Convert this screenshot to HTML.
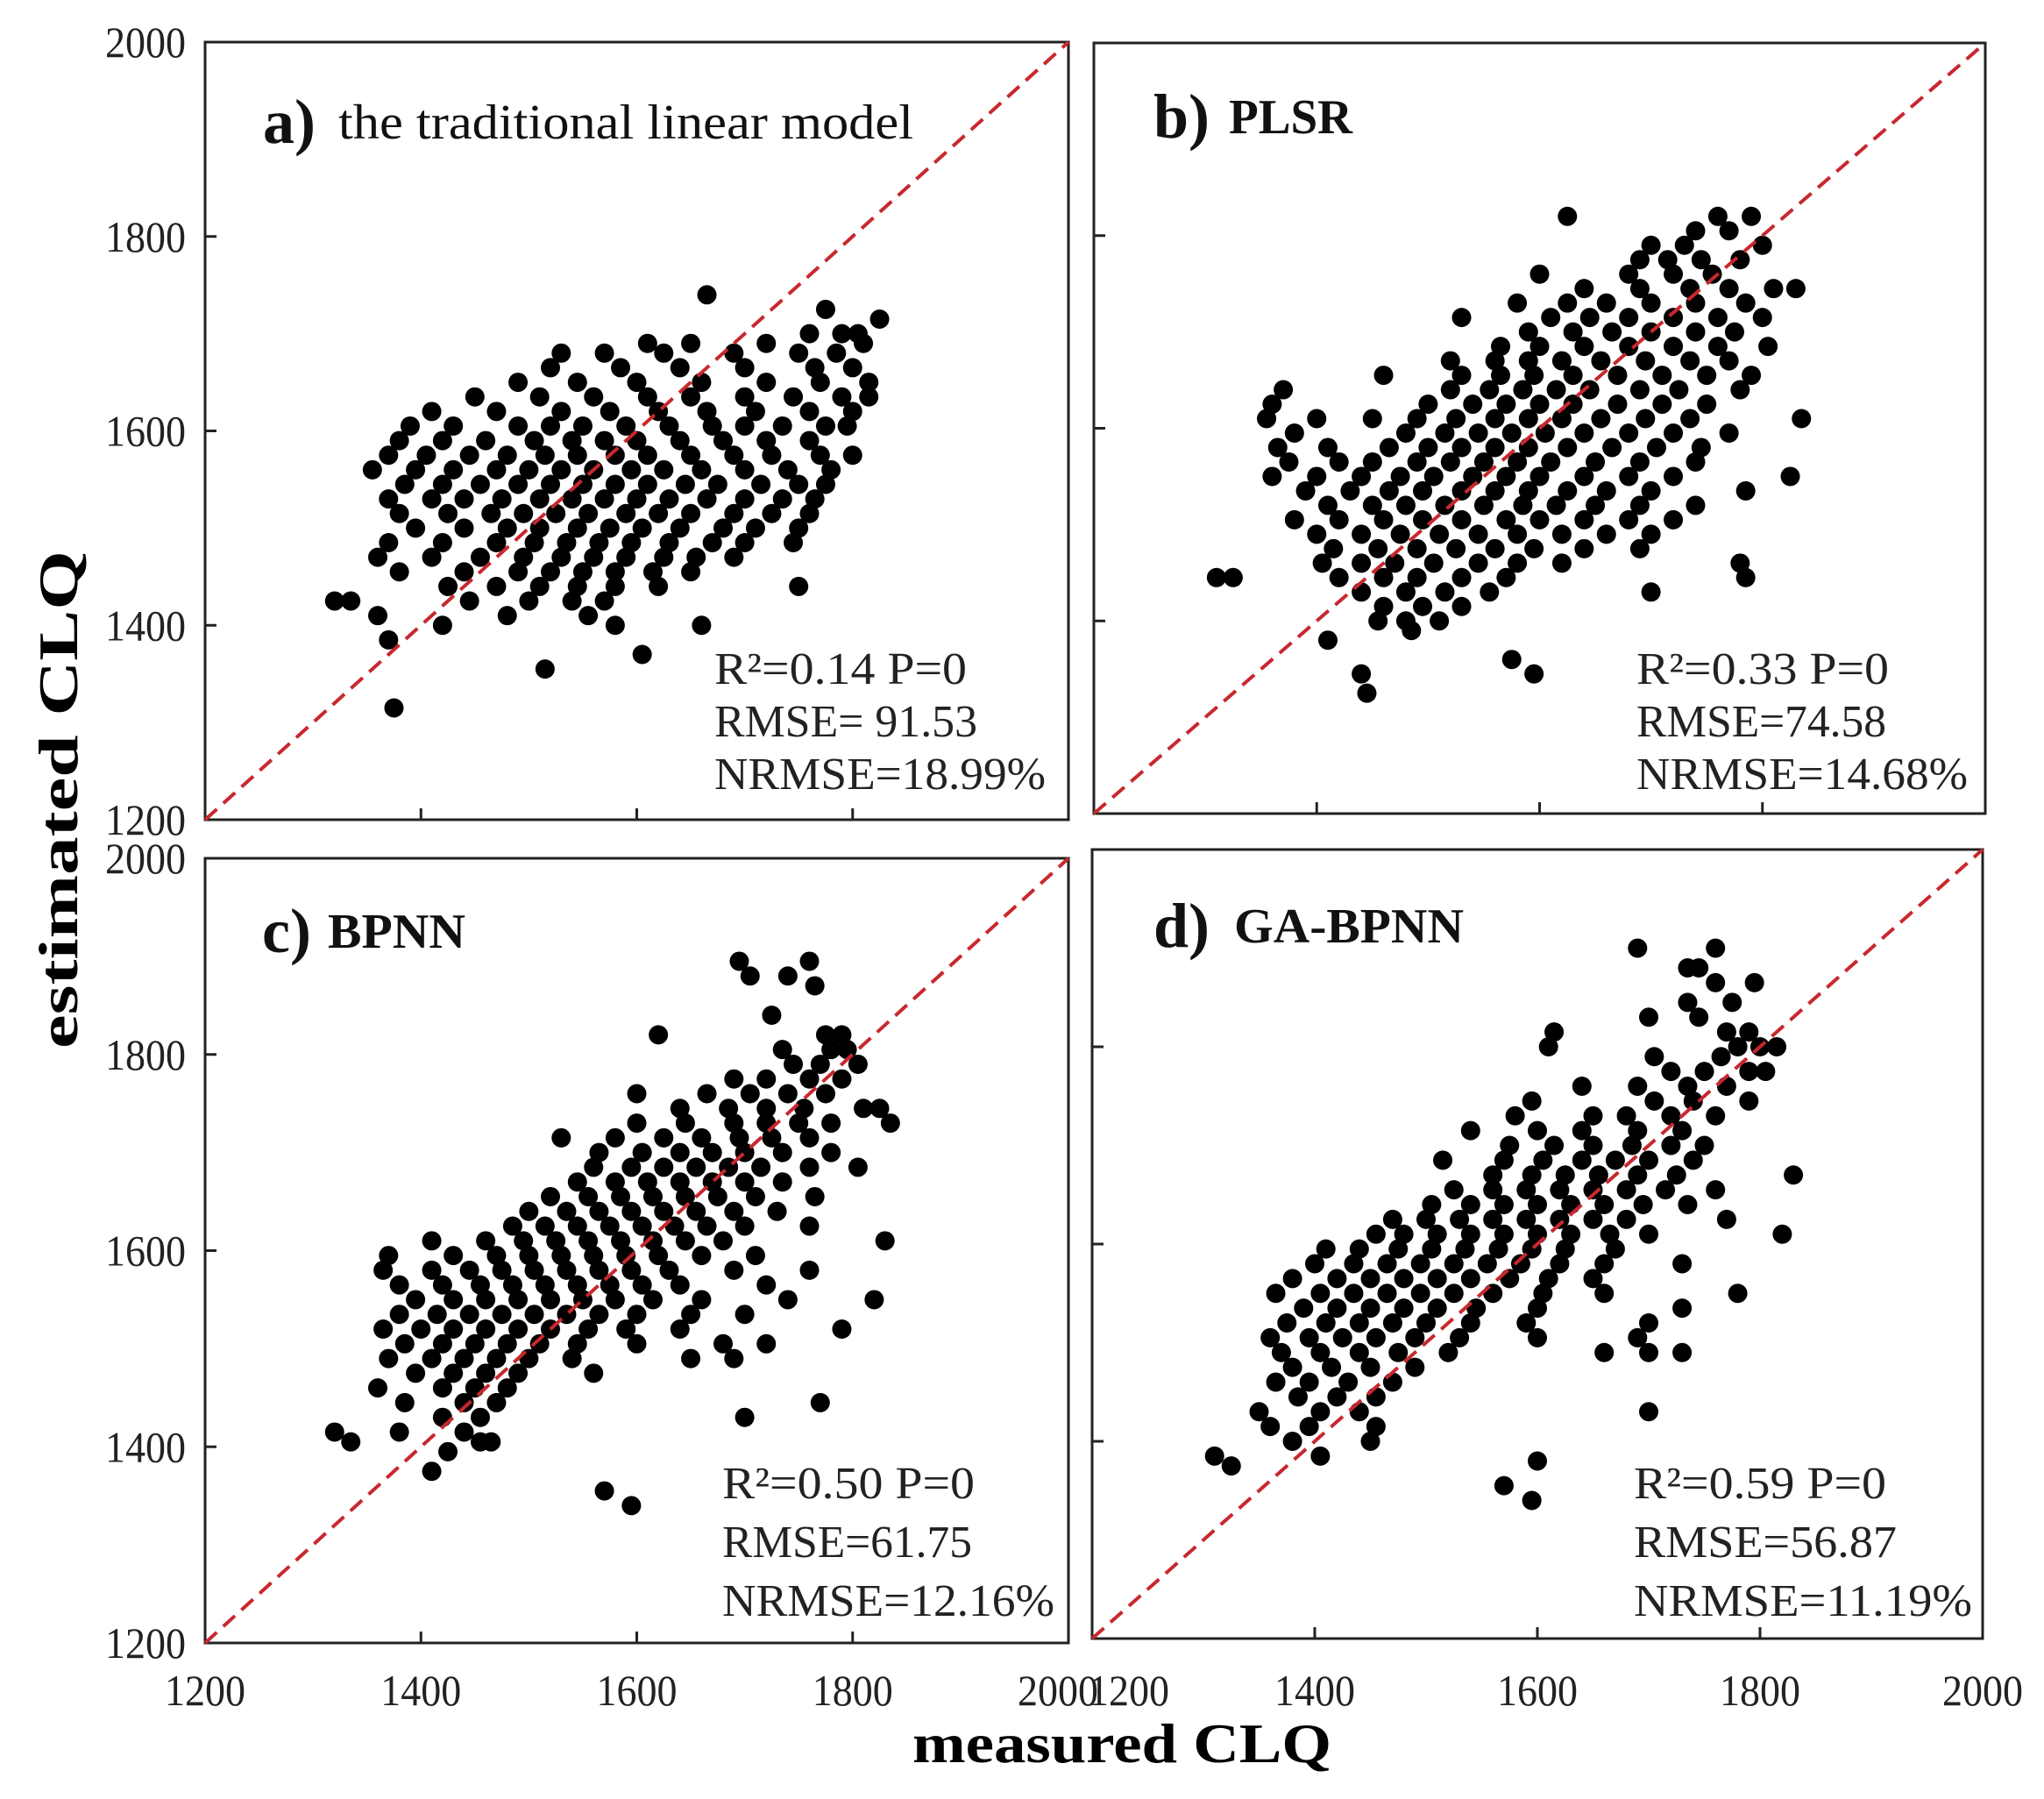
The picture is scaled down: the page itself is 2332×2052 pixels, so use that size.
<!DOCTYPE html>
<html><head><meta charset="utf-8"><style>
html,body{margin:0;padding:0;background:#fff;}
svg{display:block;font-family:"Liberation Serif",serif;}
</style></head><body>
<svg id="chart" xmlns="http://www.w3.org/2000/svg" width="2332" height="2052" viewBox="0 0 2332 2052">
<rect width="2332" height="2052" fill="#fff"/>
<g id="panels"></g>
<text transform="translate(88,912) rotate(-90)" text-anchor="middle" font-weight="bold" font-size="64" textLength="568" lengthAdjust="spacingAndGlyphs">estimated  CLQ</text>
<text x="1280" y="2010" text-anchor="middle" font-weight="bold" font-size="64" textLength="478" lengthAdjust="spacingAndGlyphs">measured  CLQ</text>
</svg>
<script>
const tickValues = [1200, 1400, 1600, 1800, 2000];
const tickLabels = ["1200", "1400", "1600", "1800", "2000"];
const panelLetters = ["a)", "b)", "c)", "d)"];
const panelNames = ["the traditional linear model", "PLSR", "BPNN", "GA-BPNN"];
const statR2 = ["R²=0.14  P=0", "R²=0.33  P=0", "R²=0.50  P=0", "R²=0.59  P=0"];
const statRMSE = ["RMSE= 91.53", "RMSE=74.58", "RMSE=61.75", "RMSE=56.87"];
const statNRMSE = ["NRMSE=18.99%", "NRMSE=14.68%", "NRMSE=12.16%", "NRMSE=11.19%"];

const aRowY = [1740,1725,1715,1700,1690,1680,1665,1650,1635,1620,1605,1590,1575,1560,1545,1530,1515,1500,1485,1470,1455,1440,1425,1410,1400,1385,1370,1355,1315];
const aRowX = [[1665],[1775],[1825],[1790,1805,1760],[1610,1650,1720,1810],[1530,1570,1625,1690,1750,1785],[1520,1585,1640,1700,1765,1800],[1490,1545,1600,1660,1720,1770,1815],[1450,1510,1560,1610,1650,1700,1745,1790,1815],[1410,1470,1530,1575,1620,1665,1710,1760,1800],[1390,1430,1490,1520,1550,1590,1630,1670,1700,1735,1775,1795],[1380,1420,1460,1505,1540,1570,1600,1640,1680,1720,1760],[1370,1405,1445,1480,1515,1545,1580,1610,1650,1690,1725,1770,1800],[1355,1395,1430,1470,1500,1530,1560,1595,1625,1660,1700,1740,1780],[1385,1420,1455,1490,1520,1550,1580,1610,1645,1675,1715,1750,1775],[1370,1410,1440,1475,1510,1540,1570,1600,1630,1665,1700,1735,1765],[1380,1425,1465,1495,1525,1555,1590,1620,1650,1690,1725,1760],[1395,1440,1480,1510,1545,1575,1605,1640,1680,1710,1750],[1370,1420,1470,1505,1535,1565,1595,1630,1670,1700,1745],[1360,1410,1455,1495,1530,1560,1590,1625,1655,1690],[1380,1440,1490,1520,1550,1580,1615,1650],[1425,1470,1510,1545,1580,1620,1750],[1320,1335,1445,1500,1540,1570],[1360,1480,1555],[1420,1580,1660],[1370],[1605],[1515],[1375]];

const bRowY = [1820,1805,1790,1775,1760,1745,1730,1715,1700,1685,1670,1655,1640,1625,1610,1595,1580,1565,1550,1535,1520,1505,1490,1475,1460,1445,1430,1415,1400,1390,1380,1360,1345,1325];
const bRowX = [[1625,1760,1790],[1740,1770],[1700,1730,1800],[1690,1715,1745,1780],[1600,1680,1720,1755],[1640,1690,1735,1770,1810,1830],[1580,1625,1660,1700,1740,1785],[1530,1610,1645,1680,1720,1760,1800],[1590,1630,1665,1700,1740,1775],[1565,1600,1640,1680,1720,1760,1805],[1520,1560,1590,1620,1655,1695,1735,1770],[1460,1530,1565,1595,1630,1670,1710,1750,1790],[1370,1520,1555,1585,1615,1645,1690,1725,1780],[1360,1500,1540,1570,1600,1630,1670,1710,1750],[1355,1400,1450,1490,1525,1560,1590,1620,1655,1695,1735,1835],[1380,1480,1515,1545,1575,1605,1640,1680,1720,1770],[1365,1410,1465,1500,1530,1560,1590,1625,1665,1705,1745],[1375,1420,1450,1490,1520,1550,1580,1610,1650,1690,1740],[1360,1400,1440,1475,1505,1540,1570,1600,1640,1680,1720,1825],[1390,1430,1465,1495,1530,1560,1590,1625,1660,1700,1785],[1410,1450,1480,1515,1550,1585,1615,1650,1690,1740],[1380,1420,1460,1495,1530,1570,1600,1640,1680,1720],[1400,1440,1475,1510,1545,1580,1620,1660,1700],[1415,1455,1490,1525,1560,1595,1640,1690],[1405,1440,1470,1505,1545,1580,1620,1780],[1310,1325,1420,1460,1490,1530,1570,1785],[1440,1480,1515,1555,1700],[1460,1495,1530],[1455,1480,1510],[1485],[1410],[1575],[1440,1595],[1445]];

const cRowY = [1895,1880,1870,1840,1820,1805,1790,1775,1760,1745,1730,1715,1700,1685,1670,1655,1640,1625,1610,1595,1580,1565,1550,1535,1520,1505,1490,1475,1460,1445,1430,1415,1405,1395,1375,1355,1340];
const cRowX = [[1695,1760],[1705,1740],[1765],[1725],[1620,1775,1790],[1735,1780,1795],[1745,1770,1805],[1690,1720,1760,1790],[1600,1665,1705,1740,1775],[1640,1685,1720,1755,1810,1825],[1600,1645,1690,1720,1750,1780,1835],[1530,1580,1625,1660,1695,1725,1760],[1565,1605,1640,1670,1700,1735,1780],[1560,1595,1625,1655,1685,1715,1760,1805],[1545,1580,1610,1640,1670,1700,1735],[1520,1555,1585,1615,1645,1675,1710,1765],[1500,1535,1565,1595,1625,1655,1690,1730],[1485,1515,1545,1575,1605,1635,1665,1700,1760],[1410,1460,1495,1525,1555,1585,1615,1645,1680,1830],[1370,1430,1470,1500,1530,1560,1590,1620,1660,1710],[1365,1410,1445,1475,1505,1535,1565,1595,1630,1690,1760],[1380,1420,1455,1485,1515,1545,1575,1605,1640,1720],[1395,1430,1460,1490,1520,1550,1580,1615,1660,1740,1820],[1380,1415,1445,1475,1505,1535,1565,1600,1650,1700],[1365,1400,1430,1460,1490,1520,1555,1590,1640,1790],[1385,1420,1450,1480,1510,1545,1600,1680,1720],[1370,1410,1440,1470,1500,1540,1650,1690],[1395,1430,1460,1490,1560],[1360,1420,1450,1480],[1385,1440,1470,1770],[1420,1455,1700],[1320,1380,1440],[1335,1465,1455],[1425],[1410],[1570],[1595]];

const dRowY = [1900,1880,1865,1845,1830,1815,1800,1790,1775,1760,1745,1730,1715,1700,1685,1670,1655,1640,1625,1610,1595,1580,1565,1550,1535,1520,1505,1490,1475,1460,1445,1430,1415,1400,1385,1375,1380,1355,1340];
const dRowX = [[1690,1760],[1735,1745],[1760,1795],[1735,1775],[1700,1745],[1615,1770,1790],[1610,1780,1800,1815],[1705,1765],[1720,1750,1790,1805],[1640,1690,1735,1770],[1595,1705,1740,1790],[1580,1650,1680,1720,1760],[1540,1600,1640,1690,1730],[1575,1615,1650,1685,1720,1750],[1515,1570,1605,1640,1670,1700,1740],[1560,1595,1625,1655,1690,1725,1830],[1525,1560,1590,1620,1650,1680,1715,1760],[1505,1540,1570,1600,1630,1660,1695,1735],[1470,1500,1530,1560,1590,1620,1650,1680,1770],[1455,1480,1510,1540,1570,1600,1630,1665,1700,1820],[1410,1440,1475,1505,1535,1565,1595,1625,1670],[1400,1435,1465,1495,1525,1555,1585,1620,1660,1730],[1380,1420,1450,1480,1510,1540,1575,1610,1650],[1365,1405,1435,1465,1495,1525,1560,1605,1660,1780],[1390,1420,1450,1480,1510,1545,1600,1730],[1375,1410,1440,1470,1500,1540,1590,1700],[1360,1395,1425,1455,1490,1530,1600,1690],[1370,1405,1440,1475,1520,1660,1700,1730],[1380,1415,1450,1490],[1365,1395,1430,1470],[1385,1420,1455],[1350,1405,1440,1700],[1360,1395,1455],[1380,1450],[1310,1405],[1325],[1600],[1570],[1595]];

const NS = "http://www.w3.org/2000/svg";
const panelsG = document.getElementById("panels");
const boxes = [
  {x0:234,x1:1219,y0:48,y1:935,stx:815,w1:288,w2:300,lw:378,tx:300,nx:386,nw:656,ty:163,sy:[780,840,900],yl:true},
  {x0:1248,x1:2265,y0:49,y1:928,stx:1867,w1:288,w2:285,lw:378,tx:1316,nx:1402,nw:141,ty:157,sy:[780,840,900],yl:false},
  {x0:234,x1:1219,y0:979,y1:1874,stx:824,w1:288,w2:285,lw:379,tx:299,nx:374,nw:157,ty:1086,sy:[1709,1776,1843],yl:true},
  {x0:1246,x1:2262,y0:969,y1:1869,stx:1864,w1:288,w2:300,lw:386,tx:1316,nx:1408,nw:262,ty:1080,sy:[1709,1776,1843],yl:false}
];
const rowYs = [aRowY, bRowY, cRowY, dRowY];
const rowXs = [aRowX, bRowX, cRowX, dRowX];
const ids = ["a","b","c","d"];
function mk(tag, attrs, parent){const e=document.createElementNS(NS,tag);for(const k in attrs)e.setAttribute(k,attrs[k]);parent.appendChild(e);return e;}

boxes.forEach((b,i)=>{
  const sx = v => b.x0 + (v-1200)/800*(b.x1-b.x0);
  const sy = v => b.y1 - (v-1200)/800*(b.y1-b.y0);
  const g = mk("g",{},panelsG);
  
  
  const frame = mk("rect",{x:b.x0,y:b.y0,width:b.x1-b.x0,height:b.y1-b.y0,fill:"none",stroke:"#222","stroke-width":3},g);
  
  
  tickValues.forEach((t,k)=>{
    if(k>0&&k<4){
      const tx = mk("line",{x1:sx(t),x2:sx(t),y1:b.y1,y2:b.y1-13,stroke:"#222","stroke-width":3},g);
      
      
      const ty = mk("line",{x1:b.x0,x2:b.x0+13,y1:sy(t),y2:sy(t),stroke:"#222","stroke-width":3},g);
      
      
    }
    if(b.yl){
      const yl = mk("text",{x:212,y:sy(t)+17,"text-anchor":"end","font-size":50,fill:"#222",textLength:92,lengthAdjust:"spacingAndGlyphs"},g);
      yl.textContent = tickLabels[k];
      
      
    }
    if(i>=2){
      let x = sx(t);
      if(i===2&&k===4) x -= 12;
      if(i===3&&k===0) x += 42;
      const xl = mk("text",{x:x,y:1945,"text-anchor":"middle","font-size":50,fill:"#222",textLength:92,lengthAdjust:"spacingAndGlyphs"},g);
      xl.textContent = tickLabels[k];
      
      
    }
  });
  const ptsG = mk("g",{fill:"#000"},g);
  
  
  rowYs[i].forEach((yv,r)=>{
    rowXs[i][r].forEach(xv=>{
      const c = mk("circle",{cx:sx(xv),cy:sy(yv),r:11},ptsG);
      
      
    });
  });
  const diag = mk("line",{x1:sx(1200),y1:sy(1200),x2:sx(2000),y2:sy(2000),stroke:"#c8282d","stroke-width":4,"stroke-dasharray":"18 10"},g);
  
  
  const tl = mk("text",{x:b.tx,y:b.ty,"font-size":72,"font-weight":"bold",fill:"#111"},g);
  tl.textContent = panelLetters[i];
  
  
  const tn = mk("text",{x:b.nx,y:b.ty-5,"font-size":56,"font-weight":i===0?"normal":"bold",fill:"#111",textLength:b.nw,lengthAdjust:"spacingAndGlyphs"},g);
  tn.textContent = panelNames[i];
  
  
  [statR2[i],statRMSE[i],statNRMSE[i]].forEach((s,k)=>{
    const w = [b.w1,b.w2,b.lw][k];
    const st = mk("text",{x:b.stx,y:b.sy[k],"font-size":52,fill:"#222",textLength:w,lengthAdjust:"spacingAndGlyphs"},g);
    st.textContent = s;
    
    
  });
});
</script>
</body></html>
